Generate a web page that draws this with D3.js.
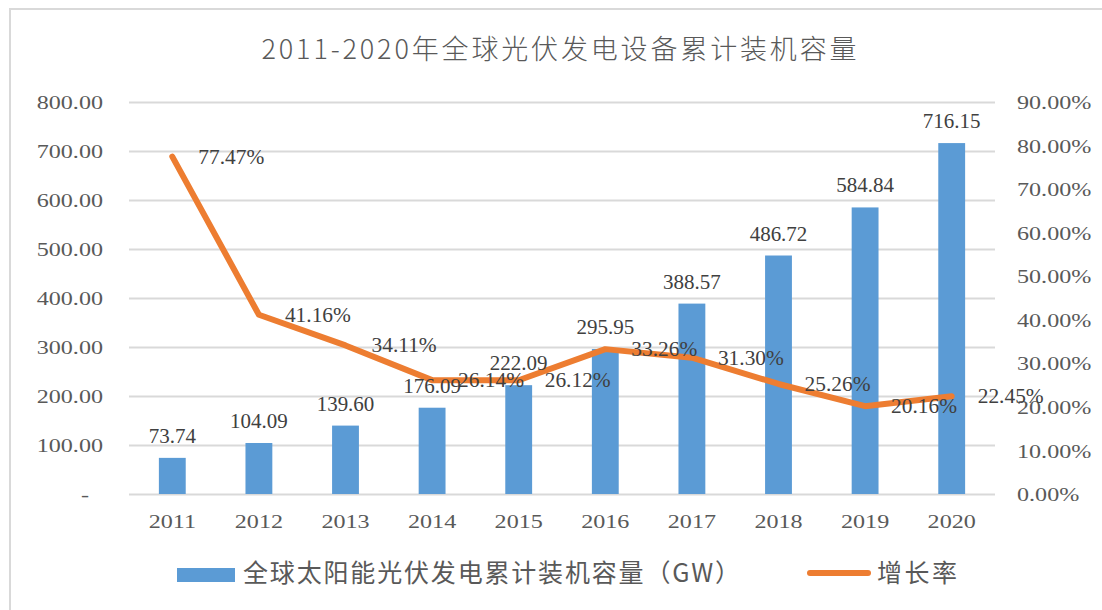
<!DOCTYPE html>
<html>
<head>
<meta charset="utf-8">
<script src="https://cdn.jsdelivr.net/npm/d3@7.9.0/dist/d3.min.js"></script>
<style>
  body { margin: 0; background: #fff; }
  svg { display: block; }
  .num { font-family: "Liberation Serif", "Times New Roman", serif; }
  .cjk { font-family: "Noto Sans CJK SC", "Noto Sans", sans-serif; }
</style>
</head>
<body>
<svg width="1102" height="610"></svg>
<script>
const years = ['2011', '2012', '2013', '2014', '2015', '2016', '2017', '2018', '2019', '2020'];
const capacity = [73.74, 104.09, 139.60, 176.09, 222.09, 295.95, 388.57, 486.72, 584.84, 716.15];
const growth = [0.7747, 0.4116, 0.3411, 0.2614, 0.2612, 0.3326, 0.3130, 0.2526, 0.2016, 0.2245];
const leftTicks = [0, 100, 200, 300, 400, 500, 600, 700, 800];
const rightTicks = [0, 0.1, 0.2, 0.3, 0.4, 0.5, 0.6, 0.7, 0.8, 0.9];
const title = '2011-2020年全球光伏发电设备累计装机容量';
const barName = '全球太阳能光伏发电累计装机容量（GW）';
const lineName = '增长率';

const blue = '#5B9BD5';
const orange = '#ED7D31';
const grid = '#D9D9D9';
const axisText = '#595959';
const labelText = '#404040';

const svg = d3.select('svg');

// chart frame
svg.append('rect')
    .attr('x', 10).attr('y', 9)
    .attr('width', 1200).attr('height', 700)
    .attr('fill', 'none')
    .attr('stroke', grid)
    .attr('stroke-width', 2);

const x = d3.scaleBand()
    .domain(years)
    .range([129, 995])
    .paddingInner(0.69)
    .paddingOuter(0.345);
const yL = d3.scaleLinear().domain([0, 800]).range([494, 102]);
const yR = d3.scaleLinear().domain([0, 0.9]).range([494, 102]);
const cx = (d) => x(d) + x.bandwidth() / 2;

// squeeze/stretch text horizontally around its own anchor
function stretch(sel, sx) {
    sel.each(function () {
        const t = d3.select(this);
        const tx = +t.attr('x') || 0, ty = +t.attr('y') || 0;
        t.attr('x', 0).attr('y', 0)
         .attr('transform', `translate(${tx},${ty}) scale(${sx},1)`);
    });
}

// left axis + gridlines
const gLeft = svg.append('g')
    .attr('transform', 'translate(129,0)')
    .call(d3.axisLeft(yL)
        .tickValues(leftTicks)
        .tickSize(-866)
        .tickPadding(26)
        .tickFormat((d) => d === 0 ? '-' : d.toFixed(2)));
gLeft.select('.domain').remove();
gLeft.selectAll('line').attr('stroke', grid).attr('stroke-width', 2);
gLeft.selectAll('text')
    .attr('class', 'num')
    .attr('font-size', 19)
    .attr('fill', axisText)
    .attr('dy', '0.35em')
    .attr('x', (d) => d === 0 ? -40 : -26);
stretch(gLeft.selectAll('text'), 1.27);

// right axis labels
const gRight = svg.append('g')
    .attr('transform', 'translate(995,0)')
    .call(d3.axisRight(yR)
        .tickValues(rightTicks)
        .tickSize(0)
        .tickPadding(22)
        .tickFormat(d3.format('.2%')));
gRight.select('.domain').remove();
gRight.selectAll('text')
    .attr('class', 'num')
    .attr('font-size', 19)
    .attr('fill', axisText)
    .attr('dy', '0.35em');
stretch(gRight.selectAll('text'), 1.27);

// x axis labels
const gBottom = svg.append('g')
    .attr('transform', 'translate(0,494)')
    .call(d3.axisBottom(x).tickSize(0).tickPadding(27));
gBottom.select('.domain').remove();
gBottom.selectAll('text')
    .attr('class', 'num')
    .attr('font-size', 19)
    .attr('fill', axisText)
    .attr('dy', '0.35em');
stretch(gBottom.selectAll('text'), 1.27);

// bars
svg.append('g').selectAll('rect')
    .data(years)
    .join('rect')
    .attr('x', (d) => x(d))
    .attr('width', x.bandwidth())
    .attr('y', (d, i) => yL(capacity[i]))
    .attr('height', (d, i) => yL(0) - yL(capacity[i]))
    .attr('fill', blue);

// growth line
const line = d3.line()
    .x((d, i) => cx(years[i]))
    .y((d) => yR(d));
svg.append('path')
    .datum(growth)
    .attr('d', line)
    .attr('fill', 'none')
    .attr('stroke', orange)
    .attr('stroke-width', 6)
    .attr('stroke-linejoin', 'round')
    .attr('stroke-linecap', 'round');

// bar labels
const barLabels = svg.append('g').selectAll('text')
    .data(years)
    .join('text')
    .attr('class', 'num')
    .attr('font-size', 20)
    .attr('fill', labelText)
    .attr('text-anchor', 'middle')
    .attr('x', (d) => cx(d))
    .attr('y', (d, i) => yL(capacity[i]) - 15)
    .text((d, i) => capacity[i].toFixed(2));
stretch(barLabels, 1.05);

// line labels
const lineLabels = svg.append('g').selectAll('text')
    .data(years)
    .join('text')
    .attr('class', 'num')
    .attr('font-size', 20)
    .attr('fill', labelText)
    .attr('x', (d) => cx(d) + 26)
    .attr('y', (d, i) => yR(growth[i]))
    .attr('dy', '0.35em')
    .text((d, i) => d3.format('.2%')(growth[i]));
stretch(lineLabels, 1.07);

// title
svg.append('text')
    .attr('class', 'cjk')
    .attr('x', 559)
    .attr('y', 59)
    .attr('text-anchor', 'middle')
    .attr('font-size', 27)
    .attr('font-weight', 300)
    .attr('fill', axisText)
    .attr('textLength', 595)
    .attr('lengthAdjust', 'spacing')
    .text(title);

// legend
const legend = svg.append('g');
legend.append('rect')
    .attr('x', 177).attr('y', 568)
    .attr('width', 58).attr('height', 14)
    .attr('fill', blue);
legend.append('text')
    .attr('class', 'cjk')
    .attr('x', 243).attr('y', 582)
    .attr('font-size', 25)
    .attr('fill', axisText)
    .attr('textLength', 497)
    .attr('lengthAdjust', 'spacing')
    .text(barName);
legend.append('line')
    .attr('x1', 810).attr('x2', 868)
    .attr('y1', 573).attr('y2', 573)
    .attr('stroke', orange)
    .attr('stroke-width', 6)
    .attr('stroke-linecap', 'round');
legend.append('text')
    .attr('class', 'cjk')
    .attr('x', 877).attr('y', 582)
    .attr('font-size', 25)
    .attr('fill', axisText)
    .attr('textLength', 80)
    .attr('lengthAdjust', 'spacing')
    .text(lineName);
</script>
</body>
</html>
